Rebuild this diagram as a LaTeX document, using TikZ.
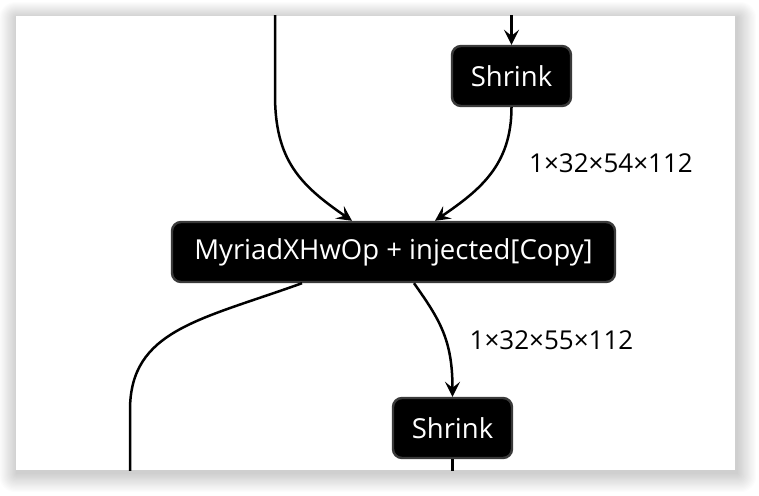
\documentclass[tikz,border=0pt]{standalone}
\usepackage{fontspec}
\setmainfont{Open Sans}
\usetikzlibrary{arrows.meta,calc}
\definecolor{nodeborder}{RGB}{58,58,58}
\tikzset{
  opnode/.style={draw=nodeborder, line width=2.4pt, fill=black, rounded corners=9pt,
    text=white, font=\fontsize{27.5}{32}\selectfont, inner sep=0pt,
    minimum height=60pt},
  edge/.style={line width=2.5pt, draw=black},
  arr/.style={edge, -{Stealth[length=15pt,width=15pt,inset=6pt]}},
  lbl/.style={font=\fontsize{26}{30}\selectfont, text=black, inner sep=0pt}
}
\begin{document}
\begin{tikzpicture}[x=1pt,y=-1pt]
\useasboundingbox (0,0) rectangle (759,495);
\fill[white] (0,0) rectangle (759,495);
% soft shadow
\foreach \i in {1,...,16}{
  \fill[black, opacity=0.012, rounded corners=\i pt] ($(17,18)+(-\i*1.1,-\i*1.0)$) rectangle ($(737,473)+(\i*1.2,\i*1.2)$);
}
\fill[white] (16,16) rectangle (735,470);
\begin{scope}
\clip (16,16) rectangle (735,470);
\node[opnode, minimum width=119pt] (s1) at (511.5,76) {Shrink};
\node[opnode, minimum width=443pt] (m) at (393.5,252) {MyriadXHwOp + injected[Copy]};
\node[opnode, minimum width=119pt] (s2) at (452.5,428) {Shrink};
\coordinate (t1) at (511.5,10);
\coordinate (t2) at (275,10);
\coordinate (b1) at (130,480);
\coordinate (b2) at (452.5,480);
\draw[arr] (t1) -- (s1.north);
\draw[arr] (t2) -- (275,95) .. controls (275,160) and (300,185) .. ($(m.north)+(-41.5,0)$);
\draw[arr] (s1.south) .. controls (511.5,165) and (480,190) .. ($(m.north)+(41.5,0)$);
\draw[arr] ($(m.south)+(20.5,0)$) .. controls (440,320) and (452.5,340) .. (s2.north);
\draw[edge] ($(m.south)+(-91.5,0)$) .. controls (200,320) and (130,330) .. (130,410) -- (b1);
\draw[edge] (s2.south) -- (b2);
\node[lbl] (l1) at (611,163) {1×32×54×112};
\node[lbl] (l2) at (551.5,340) {1×32×55×112};
\end{scope}
\end{tikzpicture}
\end{document}
